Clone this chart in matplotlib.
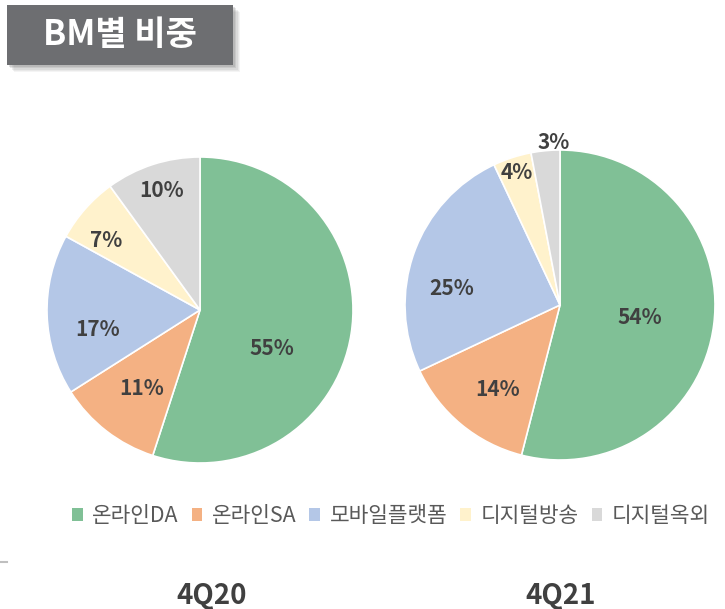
import matplotlib
matplotlib.use("Agg")
import matplotlib.pyplot as plt
import numpy as np
from matplotlib.patches import Rectangle, Patch

plt.rcParams['font.family'] = ['Noto Sans CJK KR', 'DejaVu Sans']

title = "BM별 비중"
categories = ["온라인DA", "온라인SA", "모바일플랫폼", "디지털방송", "디지털옥외"]
colors = ["#80C096", "#F4B183", "#B4C7E7", "#FFF2CC", "#D9D9D9"]
periods = ["4Q20", "4Q21"]
values_4q20 = [55, 11, 17, 7, 10]
values_4q21 = [54, 14, 25, 4, 3]

# label placement style (radial fraction, angle shift in degrees)
label_style_4q20 = [(0.53, -19), (0.64, 1), (0.68, 9), (0.76, 5), (0.82, 0)]
label_style_4q21 = [(0.52, -2), (0.68, 3), (0.71, 11), (0.90, 0), (1.05, -3)]

W, H = 725, 609
fig = plt.figure(figsize=(W / 100, H / 100), dpi=100)
fig.patch.set_facecolor("white")

def px_axes(x0, y0, x1, y1):
    return fig.add_axes([x0 / W, 1 - y1 / H, (x1 - x0) / W, (y1 - y0) / H])

def draw_pie(ax, vals, styles):
    ax.pie(vals, colors=colors, startangle=90, counterclock=False,
           radius=1, wedgeprops=dict(edgecolor="white", linewidth=1.2))
    total = sum(vals)
    start = 90.0
    for v, (rf, shift) in zip(vals, styles):
        sweep = 360.0 * v / total
        mid = np.deg2rad(start - sweep / 2 + shift)
        start -= sweep
        ax.text(rf * np.cos(mid), rf * np.sin(mid), f"{v}%", ha="center", va="center",
                fontsize=15, fontweight="bold", color="#404040")
    ax.set_xlim(-1, 1)
    ax.set_ylim(-1, 1)
    ax.set_aspect("auto")
    ax.axis("off")

ax1 = px_axes(47, 157, 353, 463)
draw_pie(ax1, values_4q20, label_style_4q20)
ax2 = px_axes(405, 150, 715, 460)
draw_pie(ax2, values_4q21, label_style_4q21)

# overlay for title box, period labels
ov = fig.add_axes([0, 0, 1, 1], zorder=-1)
ov.set_xlim(0, W)
ov.set_ylim(H, 0)
ov.axis("off")
for i, a in enumerate([0.08, 0.10, 0.13, 0.18, 0.22]):
    d = 7 - i * 1.2
    ov.add_patch(Rectangle((7 + d, 5 + d), 226, 60, facecolor="#7F7F7F", alpha=a, edgecolor="none"))
ov.add_patch(Rectangle((7, 5), 226, 60, facecolor="#6D6E71", edgecolor="none"))
ov.text(120, 35, title, ha="center", va="center", color="white", fontsize=24.5, fontweight="bold")
ov.plot([0, 7], [562, 562], color="#BFBFBF", lw=1.5)

for xc, p in zip([212, 561], periods):
    ov.text(xc, 596, p, ha="center", va="center", fontsize=20, fontweight="bold", color="#404040")

handles = [Patch(facecolor=c, edgecolor="none") for c in colors]
fig.legend(handles, categories, loc="center left", bbox_to_anchor=(72 / W, 1 - 516 / H),
           ncol=5, frameon=False, fontsize=15.4, handlelength=0.5, handleheight=0.5,
           handletextpad=0.45, columnspacing=0.6, labelcolor="#595959", borderaxespad=0, borderpad=0)

fig.savefig("out.png", dpi=100)
